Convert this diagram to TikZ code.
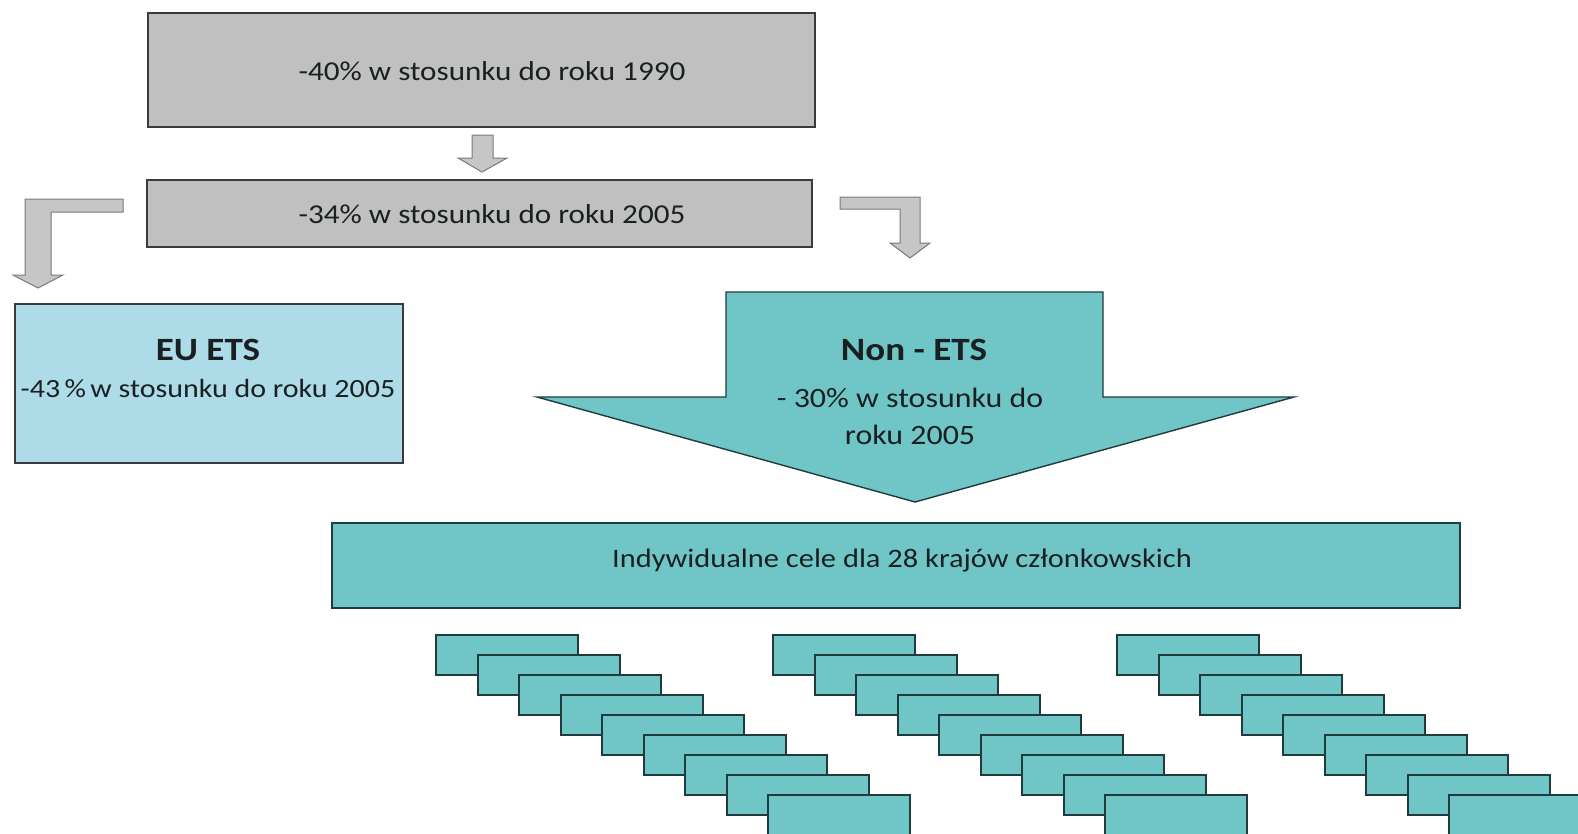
\documentclass[tikz,border=0pt]{standalone}
\usepackage{fontspec}
\setmainfont{Carlito}[FakeStretch=1.14]
\definecolor{grayfill}{HTML}{C0C0C0}
\definecolor{boxline}{HTML}{3A3A3A}
\definecolor{tealfill}{HTML}{70C6C7}
\definecolor{tealline}{HTML}{1F3B3D}
\definecolor{eublue}{HTML}{ADDCE8}
\definecolor{arrfill}{HTML}{C6C6C6}
\definecolor{arrline}{HTML}{7A7A7A}
\definecolor{txt}{HTML}{1A2022}
\begin{document}
\begin{tikzpicture}[x=1pt,y=-1pt,
  every node/.style={text=txt, inner sep=0pt},
  graybox/.style={draw=boxline, line width=1.6pt, fill=grayfill},
  eubox/.style={draw=boxline, line width=1.6pt, fill=eublue},
  tealbox/.style={draw=tealline, line width=1.8pt, fill=tealfill},
  smallbox/.style={draw=tealline, line width=2pt, fill=tealfill, anchor=north west, minimum width=142pt, minimum height=40pt},
  blockarrow/.style={draw=arrline, line width=1pt, fill=arrfill},
  bigarrow/.style={draw=tealline, line width=1.4pt, fill=tealfill},
  bodytext/.style={font=\fontsize{27.3}{32}\selectfont},
  titletext/.style={font=\bfseries\fontsize{32.5}{38}\selectfont}
]
\useasboundingbox (0,0) rectangle (1578,833);
\clip (0,0) rectangle (1578,833);
\fill[white] (0,0) rectangle (1578,833);

% top boxes
\node[graybox, minimum width=667pt, minimum height=114pt] (b1) at (481.5,70) {};
\node[bodytext] (b1t) at (492,71) {-40\% w stosunku do roku 1990};
\node[graybox, minimum width=665pt, minimum height=67pt] (b2) at (479.5,213.5) {};
\node[bodytext] (b2t) at (492,214) {-34\% w stosunku do roku 2005};

% small down arrow between b1 and b2
\draw[blockarrow] (472,135) -- (493,135) -- (493,158) -- (507,158) -- (482,172) -- (458,158) -- (472,158) -- cycle;

% left bent arrow
\draw[blockarrow] (25,199) -- (123,199) -- (123,212) -- (51,212) -- (51,275) -- (63,275) -- (38,288) -- (13,275) -- (25,275) -- cycle;

% right bent arrow
\draw[blockarrow] (840,197) -- (920,197) -- (920,243) -- (930,243) -- (910,258) -- (890,243) -- (900,243) -- (900,209) -- (840,209) -- cycle;

% EU ETS box
\node[eubox, minimum width=388pt, minimum height=159pt] (eu) at (209,383.5) {};
\node[titletext] (eut) at (208,350) {EU ETS};
\node[font=\fontsize{26.3}{30}\selectfont] (eub) at (208,388) {-43\,\%\,w stosunku do roku 2005};

% Non-ETS big arrow
\draw[bigarrow] (726,292) -- (1103,292) -- (1103,397) -- (1294,397) -- (915,502) -- (537,397) -- (726,397) -- cycle;
\node[titletext] (net) at (914,350) {Non - ETS};
\node[font=\fontsize{28}{37}\selectfont, align=center] (neb) at (910,416) {- 30\% w stosunku do\\roku 2005};

% individual targets box
\node[tealbox, minimum width=1128pt, minimum height=85pt] (ind) at (896,565.5) {};
\node[font=\fontsize{26.7}{30}\selectfont] (indt) at (902,561) {Indywidualne cele dla 28 krajów członkowskich};

% groups of small boxes
\foreach \g/\gx in {1/435,2/772,3/1116}{
  \foreach \i in {0,...,8}{
    \node[smallbox] (s\g-\i) at ({\gx+41.5*\i},{634+20*\i}) {};
  }
}
\end{tikzpicture}
\end{document}
